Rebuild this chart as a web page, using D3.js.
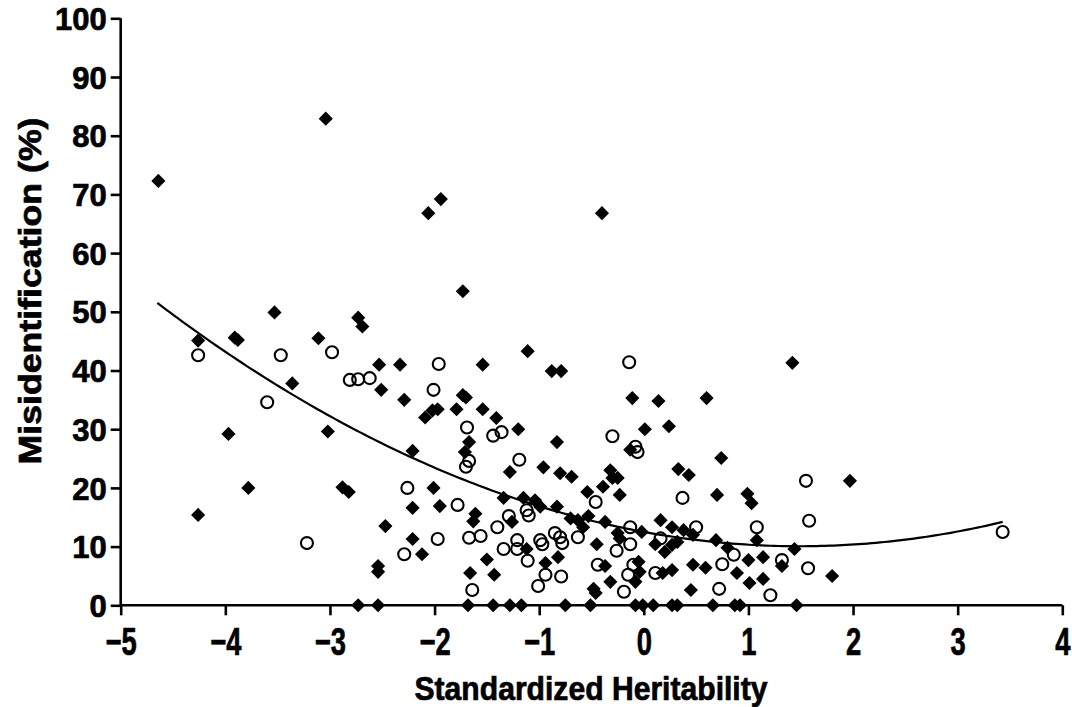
<!DOCTYPE html>
<html>
<head>
<meta charset="utf-8">
<script src="https://cdn.jsdelivr.net/npm/d3@7/dist/d3.min.js"></script>
<style>
  html, body { margin: 0; padding: 0; background: #fff; }
  svg { display: block; }
  text { font-family: "Liberation Sans", Arial, Helvetica, sans-serif; font-weight: bold; fill: #000; stroke: #000; stroke-width: 0.7px; }
</style>
</head>
<body>
<svg id="chart" width="1072" height="707"></svg>
<script>
// ---- Data ----
const xTicks = [-5, -4, -3, -2, -1, 0, 1, 2, 3, 4];
const yTicks = [0, 10, 20, 30, 40, 50, 60, 70, 80, 90, 100];

// Filled diamonds: standardized heritability (x) and misidentification % (y)
const diamondX = [
  -4.64, -3.04, -4.26, -4.26, -3.91, -3.88, -3.97, -3.78, -3.53, -3.36,
  -3.11, -3.02, -2.88, -2.82, -2.73, -2.69, -2.53, -2.51, -2.33, -2.29,
  -2.21, -2.47, -2.54, -2.54, -2.73, -2.54, -2.21, -1.95, -2.21, -2.12,
  -2.01, -2.09, -2.02, -1.97, -2.06, -1.94, -0.40, -1.73, -1.11, -1.54,
  -0.88, -0.79, -0.11, 0.14, 0.60, -1.73, -1.70, -1.79, -1.54, -1.41,
  -1.20, -0.83, -1.67, -1.71, -1.28, -1.61, -1.63, -1.34, -1.15, -1.26,
  -1.12, -1.50, -1.66, -1.43, -1.68, -1.44, -1.28, -1.17, 0.01, -0.13,
  -0.96, -0.80, -0.69, -0.32, -0.39, -0.30, -0.25, -0.23, -0.54, -1.04,
  -0.99, -0.83, -0.70, -0.63, -0.53, -0.58, -0.37, -0.02, -0.25, -0.23,
  -0.45, -0.94, -0.82, -0.37, -0.32, -0.48, -0.46, -0.05, -0.04, -0.08,
  -0.75, -0.51, -0.08, -0.01, 0.24, 0.74, 0.33, 0.43, 0.70, 0.99,
  1.03, 0.16, 0.27, 0.38, 0.47, 0.11, 0.20, 0.27, 0.32, 0.69,
  1.08, 0.80, 1.00, 1.14, 0.89, 1.01, 1.14, 0.18, 0.27, 0.47,
  0.59, 0.45, 0.09, 0.27, 0.32, 0.66, 0.87, 0.92, 1.42, 1.97,
  1.44, 1.32, 1.80, 1.46
];
const diamondY = [
  72.3, 82.9, 45.1, 15.4, 45.6, 45.2, 29.2, 20.0, 49.9, 37.8,
  45.5, 29.6, 20.1, 19.3, 49.0, 47.5, 41.0, 36.7, 41.0, 35.0,
  26.3, 13.5, 6.7, 5.7, 0, 0, 16.6, 16.9, 11.3, 8.7,
  20.0, 32.0, 33.2, 33.4, 66.8, 69.2, 66.8, 53.5, 43.3, 41.0,
  39.9, 39.9, 35.3, 34.8, 35.3, 35.8, 35.4, 33.4, 33.4, 31.9,
  30.0, 27.8, 27.8, 26.1, 22.7, 15.6, 14.3, 18.3, 18.3, 14.2,
  9.6, 7.8, 5.5, 5.2, 0, 0, 0, 0, 30.0, 26.5,
  23.5, 22.5, 21.9, 23.0, 20.2, 21.7, 21.7, 18.8, 19.3, 17.9,
  16.8, 16.8, 14.8, 14.5, 15.2, 13.3, 14.2, 12.5, 12.3, 11.4,
  10.4, 7.2, 8.2, 6.7, 4.0, 2.8, 2.1, 7.4, 5.7, 4.0,
  0, 0, 0, 0, 30.5, 25.1, 23.2, 22.2, 18.8, 19.0,
  17.4, 14.5, 13.3, 12.8, 12.0, 10.4, 9.1, 10.3, 10.8, 11.1,
  11.1, 9.8, 7.7, 8.2, 5.5, 3.8, 4.5, 5.5, 6.0, 6.9,
  6.4, 2.6, 0, 0, 0, 0, 0, 0, 41.3, 21.2,
  9.6, 6.7, 5.0, 0
];

// Open circles
const circleX = [
  -4.26, -3.47, -3.60, -2.98, -3.22, -2.81, -2.73, -2.62, -1.96, -2.01,
  -2.29, -1.97, -2.26, -1.69, -1.44, -1.36, -0.30, -0.08, -0.06, -0.14,
  -1.67, -1.70, -1.19, -1.78, -1.29, -1.12, -1.10, -1.40, -1.67, -1.56,
  -1.34, -1.21, -1.21, -1.11, -1.64, -0.46, -0.13, -0.85, -0.80, -0.78,
  -0.63, -0.26, -0.13, -0.99, -0.97, -0.94, -1.01, -0.79, -0.44, -0.19,
  -0.10, -0.15, 0.37, 0.50, 0.16, 1.08, 0.86, 0.75, 0.11, 0.72,
  1.21, 1.55, 1.58, 1.32, 1.57, 3.43
];
const circleY = [
  42.6, 42.6, 34.6, 43.1, 10.6, 38.4, 38.5, 38.7, 41.1, 36.7,
  8.7, 11.3, 20.0, 30.3, 28.9, 29.5, 28.8, 27.0, 26.1, 41.4,
  24.6, 23.6, 24.8, 17.1, 15.2, 16.2, 15.3, 13.3, 11.5, 11.8,
  9.6, 11.1, 9.6, 7.6, 2.6, 17.6, 13.3, 12.3, 11.6, 10.6,
  11.6, 9.3, 10.4, 11.1, 10.4, 5.2, 3.3, 4.9, 6.9, 2.3,
  6.9, 5.2, 18.3, 13.3, 11.4, 13.3, 8.6, 7.0, 5.5, 2.8,
  1.7, 21.2, 14.4, 7.7, 6.3, 12.5
];

// Quadratic trend line: y = c0 + c1*x + c2*x^2, drawn over this x range
const trendCoef = [12.5, -3.275, 1.0996];
const trendRange = [-4.65, 3.43];

// ---- Chart ----
const svg = d3.select("#chart");
const x = d3.scaleLinear().domain([-5, 4]).range([120.7, 1062.3]);
const y = d3.scaleLinear().domain([0, 100]).range([605.3, 18.3]);

// Y axis
const yAxis = svg.append("g")
  .attr("transform", `translate(${x(-5)},0)`)
  .call(d3.axisLeft(y).tickValues(yTicks).tickSize(10).tickPadding(4).tickFormat(d3.format("d")));
yAxis.select(".domain").attr("stroke", "#000").attr("stroke-width", 2.6).attr("d", `M0,${y(0)}V${y(100)}`);
yAxis.selectAll(".tick line").attr("stroke", "#000").attr("stroke-width", 2.6);
yAxis.selectAll(".tick text").style("font-size", "31px").attr("dy", "0.36em");

// X axis
const xAxis = svg.append("g")
  .attr("transform", `translate(0,${y(0)})`)
  .call(d3.axisBottom(x).tickValues(xTicks).tickSize(10).tickPadding(4)
    .tickFormat(d => d < 0 ? "\u2212" + Math.abs(d) : String(d)));
xAxis.select(".domain").attr("stroke", "#000").attr("stroke-width", 2.6).attr("d", `M${x(-5)},0H${x(4)}`);
xAxis.selectAll(".tick line").attr("stroke", "#000").attr("stroke-width", 2.6);
xAxis.selectAll(".tick text").style("font-size", "38px")
  .attr("y", 0).attr("dy", 0)
  .attr("transform", "translate(0,50) scale(0.72,1)");

// Trend line
const trendXs = d3.range(trendRange[0], trendRange[1] + 1e-9, (trendRange[1] - trendRange[0]) / 200);
const line = d3.line().x(d => x(d)).y(d => y(trendCoef[0] + trendCoef[1] * d + trendCoef[2] * d * d));
svg.append("path").datum(trendXs).attr("d", line)
  .attr("fill", "none").attr("stroke", "#000").attr("stroke-width", 2.2);

// Diamonds
const diamonds = diamondX.map((v, i) => [v, diamondY[i]]);
const sq = d3.symbol().type(d3.symbolSquare).size(100);
svg.append("g").selectAll("path").data(diamonds).join("path")
  .attr("d", sq)
  .attr("transform", d => `translate(${x(d[0])},${y(d[1])}) rotate(45)`)
  .attr("fill", "#000");

// Circles
const circles = circleX.map((v, i) => [v, circleY[i]]);
svg.append("g").selectAll("circle").data(circles).join("circle")
  .attr("cx", d => x(d[0])).attr("cy", d => y(d[1])).attr("r", 6)
  .attr("fill", "none").attr("stroke", "#000").attr("stroke-width", 2.1);

// Axis titles
svg.append("text").attr("x", 591).attr("y", 700).attr("text-anchor", "middle")
  .style("font-size", "33px").attr("textLength", 353).attr("lengthAdjust", "spacingAndGlyphs")
  .text("Standardized Heritability");
svg.append("text").attr("transform", "translate(41,291) rotate(-90)").attr("text-anchor", "middle")
  .style("font-size", "31px").attr("textLength", 347).attr("lengthAdjust", "spacingAndGlyphs")
  .text("Misidentification (%)");
</script>
</body>
</html>
